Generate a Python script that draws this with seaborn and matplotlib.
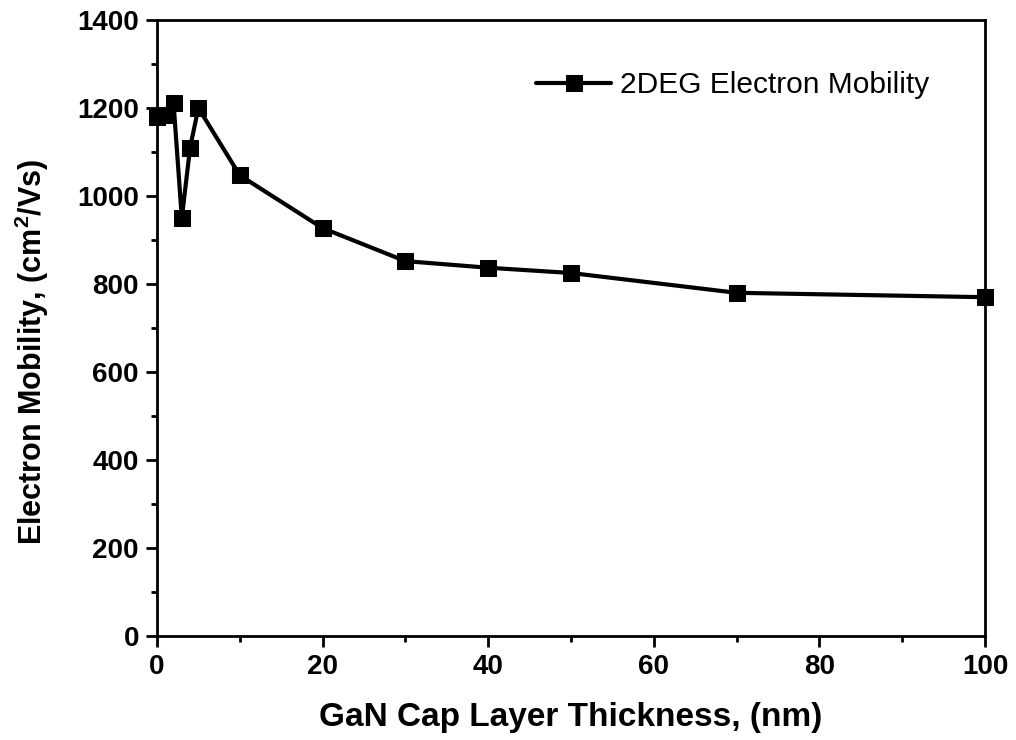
import matplotlib
matplotlib.use("Agg")
import matplotlib.pyplot as plt
from matplotlib.ticker import MultipleLocator
import seaborn as sns
import pandas as pd

thickness = [0, 1, 2, 3, 4, 5, 10, 20, 30, 40, 50, 70, 100]
mobility = [1180, 1185, 1212, 950, 1110, 1200, 1047, 927, 852, 837, 825, 780, 770]
series_label = "2DEG Electron Mobility"

df = pd.DataFrame({"x": thickness, "y": mobility})

sns.set_theme(style="ticks")
plt.rcParams['font.family'] = ['Liberation Sans', 'DejaVu Sans']
plt.rcParams['text.color'] = 'black'
plt.rcParams['axes.labelcolor'] = 'black'

fig = plt.figure(figsize=(10.16, 7.4), dpi=100)
ax = fig.add_axes([0.1545, 0.1405, 0.815, 0.8325])

sns.lineplot(data=df, x="x", y="y", ax=ax, color="black", linewidth=3,
             marker="s", markersize=11, markeredgecolor="black",
             markerfacecolor="black", label=series_label, clip_on=False)

ax.set_xlim(0, 100)
ax.set_ylim(0, 1400)
ax.xaxis.set_major_locator(MultipleLocator(20))
ax.xaxis.set_minor_locator(MultipleLocator(10))
ax.yaxis.set_major_locator(MultipleLocator(200))
ax.yaxis.set_minor_locator(MultipleLocator(100))

for s in ax.spines.values():
    s.set_visible(True)
    s.set_linewidth(2)
    s.set_color("black")

ax.tick_params(axis="both", which="major", direction="out", length=8, width=2,
               labelsize=20, colors="black", pad=5)
ax.tick_params(axis="both", which="minor", direction="out", length=4, width=2, colors="black")
for lab in ax.get_xticklabels() + ax.get_yticklabels():
    lab.set_fontweight("bold")

ax.set_xlabel("GaN Cap Layer Thickness, (nm)", fontsize=24, fontweight="bold", labelpad=16)
ax.set_ylabel("Electron Mobility, (cm$^\\mathregular{2}$/Vs)", fontsize=22, fontweight="bold")
ax.yaxis.set_label_coords(-0.128, 0.462)

leg = ax.legend(loc="upper right", frameon=False, fontsize=21.5, handlelength=2.5,
                bbox_to_anchor=(0.965, 0.96), handletextpad=0.3)
for t in leg.get_texts():
    t.set_color("black")

fig.savefig("out.png", dpi=100)
